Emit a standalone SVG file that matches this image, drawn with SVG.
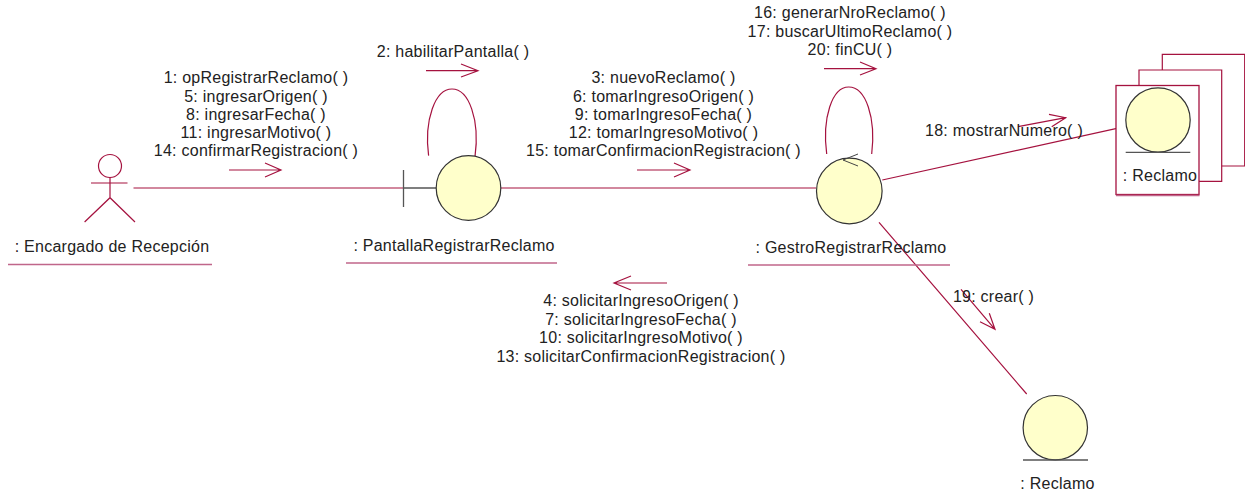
<svg xmlns="http://www.w3.org/2000/svg" width="1245" height="499" viewBox="0 0 1245 499">
<defs>
<style>
text{font-family:"Liberation Sans",Arial,sans-serif;font-size:16px;letter-spacing:.25px;fill:#222;text-anchor:middle}
.c{fill:#ffffcb;stroke:#333;stroke-width:1.2}
.l{fill:none;stroke:#a5123f;stroke-width:1.2}
.u{fill:none;stroke:#c0668a;stroke-width:1.3}
.g{fill:none;stroke:#555;stroke-width:1.3}
</style>
</defs>
<rect width="1245" height="499" fill="#fff"/>
<g id="connectors">
<path class="l" d="M133.5 188H403.5M500.5 188H816M882.3 180L1126 126.3M879 222.3L1026.7 394"/>
<path class="l" d="M428.6 155.7C424 120 435 89 452 89C469 89 480 120 475 156.7"/>
<path class="l" d="M826.7 154C822 118 832 87 848.7 87C866 87 876 118 871.7 154"/>
</g>
<g id="messages">
<path class="l" d="M229 170H281M265 163L281 170L265 177"/>
<path class="l" d="M426 70.700H478M461 64L478 70.700L461 77"/>
<path class="l" d="M637 170H690M674 163L690 170L674 177"/>
<path class="l" d="M824 68.700H876M860 62L876 68.700L860 75"/>
<path class="l" d="M667 283H614M631 276L614 283L631 290"/>
<path class="l" d="M1018 126.700L1065.700 117.700M1049 114.300L1065.700 117.700L1051.700 126.700"/>
<path class="l" d="M961 289.300L995 329.300M989.300 313.300L995 329.300L980 321.700"/>
</g>
<g id="actor">
<circle cx="110" cy="166" r="11.5" class="l"/>
<path class="l" d="M91 183H127.500M110 177.500V197.700M84.600 222L110 197.700L135 222"/>
<text x="112" y="252">: Encargado de Recepción</text>
<path class="u" d="M8 264.500H212"/>
</g>
<g id="pantalla">
<path class="g" d="M403.500 170V207M403.500 188H436"/>
<circle cx="468.500" cy="188" r="32.300" class="c"/>
<text x="454" y="251">: PantallaRegistrarReclamo</text>
<path class="u" d="M346 263H557"/>
</g>
<g id="gestor">
<circle cx="849.300" cy="191" r="32.800" class="c"/>
<path fill="none" stroke="#444" stroke-width="1" d="M858 154L843 160L858 166"/>
<text x="851" y="253">: GestroRegistrarReclamo</text>
<path class="u" d="M748 265H950"/>
</g>
<g id="reclamo-multi">
<path class="l" d="M1162.300 70V54.300H1244.700V166H1221.700"/>
<path class="l" d="M1139 85.300V70H1221.700V181.300H1199"/>
<rect x="1116" y="85.500" width="83" height="109" fill="#fff" stroke="#a5123f" stroke-width="1.300"/>
<path class="u" d="M1116 195.500H1199.500"/>
<circle cx="1158" cy="120" r="32.200" class="c"/>
<path class="g" d="M1125.700 152.300H1190.300"/>
<text x="1160" y="181">: Reclamo</text>
</g>
<g id="reclamo">
<circle cx="1055.300" cy="427.700" r="32.200" class="c"/>
<path class="g" d="M1023 460H1088"/>
<text x="1057.500" y="489">: Reclamo</text>
</g>
<g id="labels">
<text x="256" y="83">1: opRegistrarReclamo( )</text>
<text x="256" y="101.500">5: ingresarOrigen( )</text>
<text x="256" y="119.500">8: ingresarFecha( )</text>
<text x="256" y="138">11: ingresarMotivo( )</text>
<text x="256" y="156">14: confirmarRegistracion( )</text>
<text x="453" y="57">2: habilitarPantalla( )</text>
<text x="663.500" y="83">3: nuevoReclamo( )</text>
<text x="663.500" y="101.500">6: tomarIngresoOrigen( )</text>
<text x="663.500" y="119.500">9: tomarIngresoFecha( )</text>
<text x="663.500" y="138">12: tomarIngresoMotivo( )</text>
<text x="663.500" y="156">15: tomarConfirmacionRegistracion( )</text>
<text x="850" y="18">16: generarNroReclamo( )</text>
<text x="850" y="37">17: buscarUltimoReclamo( )</text>
<text x="850" y="55">20: finCU( )</text>
<text x="1004" y="135.500">18: mostrarNumero( )</text>
<text x="993.500" y="302">19: crear( )</text>
<text x="641" y="306">4: solicitarIngresoOrigen( )</text>
<text x="641" y="325">7: solicitarIngresoFecha( )</text>
<text x="641" y="343">10: solicitarIngresoMotivo( )</text>
<text x="641" y="362">13: solicitarConfirmacionRegistracion( )</text>
</g>
</svg>
